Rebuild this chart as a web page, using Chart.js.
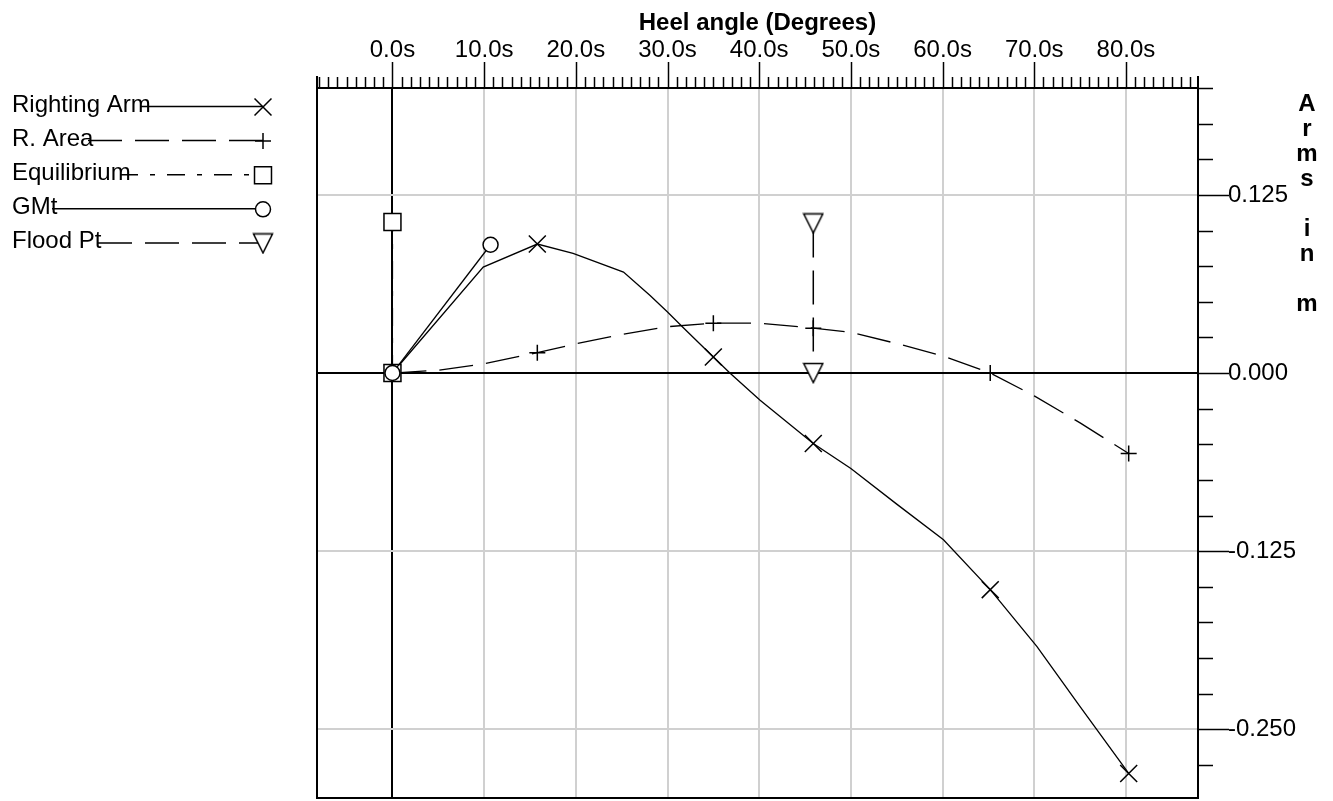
<!DOCTYPE html>
<html>
<head>
<meta charset="utf-8">
<script src="https://cdn.jsdelivr.net/npm/chart.js@4.4.1/dist/chart.umd.min.js"></script>
<style>
html,body{margin:0;padding:0;background:#fff;overflow:hidden}
#wrap{width:1333px;height:801px;position:relative}
canvas{display:block}
</style>
</head>
<body>
<div id="wrap"><canvas id="c" width="1333" height="801"></canvas></div>
<script>
// ---------------- data ----------------
const seriesNames = ['Righting Arm', 'R. Area', 'Equilibrium', 'GMt', 'Flood Pt'];
const xAxisTitle = 'Heel angle (Degrees)';
const yAxisTitle = 'Arms in m';

const xMajorTicks = [0, 10, 20, 30, 40, 50, 60, 70, 80];
const xTickLabels = ['0.0s', '10.0s', '20.0s', '30.0s', '40.0s', '50.0s', '60.0s', '70.0s', '80.0s'];
const yMajorTicks = [0.125, 0, -0.125, -0.25];
const yTickLabels = ['0.125', '0.000', '-0.125', '-0.250'];

const markedAngles = [0, 15.8, 35, 45.9, 65.2, 80.3];

const rightingArmAngles = [0, 9.9, 15.8, 19.7, 25.2, 28.1, 30, 31.7, 35, 36.8, 40.1, 45.9, 50, 55, 60.1, 65.2, 70.3, 75, 80.3];
const rightingArmValues = [0, 0.0743, 0.0905, 0.084, 0.0708, 0.0544, 0.0428, 0.032, 0.0112, 0.0, -0.0191, -0.0495, -0.067, -0.092, -0.117, -0.152, -0.192, -0.234, -0.281];

const rAreaAngles = [0, 5, 10, 15.8, 20, 25, 30, 35, 40, 45.9, 50, 55, 60, 65.2, 70, 75, 80.3];
const rAreaValues = [0, 0.002, 0.0065, 0.0143, 0.0205, 0.027, 0.0325, 0.035, 0.035, 0.0315, 0.0285, 0.0207, 0.012, 0.0, -0.016, -0.035, -0.0565];

const equilibriumAngles = [0, 0];
const equilibriumValues = [0, 0.106];

const gmtAngles = [0, 10.7];
const gmtValues = [0, 0.090];

const floodAngles = [45.9, 45.9];
const floodValues = [0.105, 0];

// ---------------- helpers ----------------
const FONT = '"Liberation Sans", Arial, sans-serif';
const near = (a, b) => Math.abs(a - b) < 1e-9;
const pts = (xs, ys) => xs.map((x, i) => ({x, y: ys[i]}));
const isMarked = c => c.raw && markedAngles.some(a => near(a, c.raw.x));

function makeTriangle() {
  const c = document.createElement('canvas');
  c.width = 22; c.height = 22;
  const g = c.getContext('2d');
  g.fillStyle = '#fff'; g.strokeStyle = '#000'; g.lineWidth = 1.5;
  g.beginPath(); g.moveTo(1.5, 1.5); g.lineTo(20.5, 1.5); g.lineTo(11, 20.5); g.closePath();
  g.fill(); g.stroke();
  return c;
}
const triImg = makeTriangle();

const styles = [
  {dash: [], pointStyle: 'crossRot', radius: 12, legendStart: 140},
  {dash: [34, 13], pointStyle: 'cross', radius: 8, legendStart: 88},
  {dash: [18, 12, 5, 12], pointStyle: 'rect', radius: 12, legendStart: 120},
  {dash: [], pointStyle: 'circle', radius: 7.5, legendStart: 52},
  {dash: [34, 13], pointStyle: triImg, radius: 10, legendStart: 98}
];

const deco = {
  id: 'deco',
  afterDraw(chart) {
    const {ctx, chartArea: a, scales} = chart;
    const xs = scales.x, ys = scales.y;
    ctx.save();
    ctx.strokeStyle = '#000';
    ctx.lineWidth = 1.5;
    const line = (x1, y1, x2, y2) => { ctx.beginPath(); ctx.moveTo(x1, y1); ctx.lineTo(x2, y2); ctx.stroke(); };
    // x tick marks (top)
    xs.ticks.forEach(t => {
      const px = Math.round(xs.getPixelForValue(t.value)) + 0.5;
      const major = xMajorTicks.some(v => near(v, t.value));
      line(px, a.top - (major ? 26 : 11), px, a.top);
    });
    // y tick marks (right)
    ys.ticks.forEach(t => {
      const py = Math.round(ys.getPixelForValue(t.value)) + 0.5;
      const major = yMajorTicks.some(v => near(v, t.value));
      line(a.right, py, a.right + (major ? 31 : 15), py);
    });
    // frame
    ctx.lineWidth = 2;
    line(a.left, a.top - 12, a.left, a.bottom);
    line(a.left - 1, a.bottom, a.right + 1, a.bottom);
    line(a.right, a.top - 12, a.right, a.top);
    // y-axis title, stacked letters
    ctx.fillStyle = '#000';
    ctx.font = 'bold 24px ' + FONT;
    ctx.textAlign = 'center';
    ctx.textBaseline = 'alphabetic';
    yAxisTitle.split('').forEach((ch, i) => { if (ch !== ' ') ctx.fillText(ch, 1307, 111 + 25 * i); });
    // legend
    ctx.font = '24px ' + FONT;
    ctx.textAlign = 'left';
    ctx.textBaseline = 'middle';
    seriesNames.forEach((name, i) => {
      const yy = 105 + 34.1 * i;
      const st = styles[i];
      ctx.fillStyle = '#000';
      ctx.fillText(name, 12, yy);
      ctx.save();
      ctx.lineWidth = 1.5;
      ctx.setLineDash(st.dash);
      line(st.legendStart, yy + 1.5, 263, yy + 1.5);
      ctx.restore();
      ctx.fillStyle = '#fff';
      ctx.strokeStyle = '#000';
      ctx.lineWidth = 1.5;
      Chart.helpers.drawPoint(ctx, {pointStyle: st.pointStyle, radius: st.radius, borderWidth: 1.5, rotation: 0}, 263, yy + 2);
    });
    ctx.restore();
  }
};

const xTicksAll = [];
for (let v = -8; v <= 87; v++) xTicksAll.push(v);
const yTicksAll = [];
for (let i = -11; i <= 8; i++) yTicksAll.push(i * 0.025);

new Chart(document.getElementById('c'), {
  type: 'scatter',
  data: {
    datasets: [
      {label: seriesNames[3], data: pts(gmtAngles, gmtValues), showLine: true, order: 0,
       borderColor: '#000', borderWidth: 1.3, pointStyle: 'circle', pointRadius: 7.5,
       pointBorderColor: '#000', pointBackgroundColor: '#fff', pointBorderWidth: 1.5},
      {label: seriesNames[2], data: pts(equilibriumAngles, equilibriumValues), showLine: true, order: 1,
       borderColor: '#000', borderWidth: 1.3, borderDash: styles[2].dash, pointStyle: 'rect', pointRadius: 12,
       pointBorderColor: '#000', pointBackgroundColor: '#fff', pointBorderWidth: 1.5},
      {label: seriesNames[0], data: pts(rightingArmAngles, rightingArmValues), showLine: true, order: 2,
       borderColor: '#000', borderWidth: 1.3, pointStyle: 'crossRot',
       pointRadius: c => isMarked(c) ? 12 : 0,
       pointBorderColor: '#000', pointBackgroundColor: '#fff', pointBorderWidth: 1.5},
      {label: seriesNames[1], data: pts(rAreaAngles, rAreaValues), showLine: true, order: 3,
       borderColor: '#000', borderWidth: 1.3, borderDash: styles[1].dash, pointStyle: 'cross',
       pointRadius: c => isMarked(c) ? 8 : 0,
       pointBorderColor: '#000', pointBackgroundColor: '#fff', pointBorderWidth: 1.5},
      {label: seriesNames[4], data: pts(floodAngles, floodValues), showLine: true, order: 4,
       borderColor: '#000', borderWidth: 1.5, borderDash: styles[4].dash, pointStyle: triImg,
       pointRadius: 10, pointBorderColor: '#000', pointBackgroundColor: '#fff', pointBorderWidth: 1.5}
    ]
  },
  options: {
    responsive: false,
    animation: false,
    events: [],
    devicePixelRatio: 1,
    layout: {autoPadding: false, padding: {left: 317, top: 0, right: 0, bottom: 3}},
    plugins: {legend: {display: false}, tooltip: {enabled: false}},
    scales: {
      x: {
        type: 'linear', position: 'top', min: -8.23, max: 87.86,
        afterFit: s => { s.height = 88; s.paddingLeft = 0; s.paddingRight = 0; },
        afterBuildTicks: s => { s.ticks = xTicksAll.map(v => ({value: v})); },
        ticks: {
          autoSkip: false, maxRotation: 0, minRotation: 0, padding: 23, color: '#000',
          font: {family: FONT, size: 24},
          callback: v => { const i = xMajorTicks.findIndex(m => near(m, v)); return i >= 0 ? xTickLabels[i] : ''; }
        },
        grid: {
          drawTicks: false,
          color: c => near(c.tick.value, 0) ? '#000' : (xMajorTicks.some(m => near(m, c.tick.value)) ? '#d0d0d0' : 'rgba(0,0,0,0)'),
          lineWidth: c => xMajorTicks.some(m => near(m, c.tick.value)) ? 2 : 0
        },
        border: {display: true, color: '#000', width: 2},
        title: {display: true, text: xAxisTitle, color: '#000', font: {family: FONT, size: 24, weight: 'bold'}, padding: {top: 8.5, bottom: 0}}
      },
      y: {
        type: 'linear', position: 'right', min: -0.2982, max: 0.2,
        afterFit: s => { s.width = 135; s.paddingTop = 0; s.paddingBottom = 0; },
        afterBuildTicks: s => { s.ticks = yTicksAll.map(v => ({value: v})); },
        ticks: {
          autoSkip: false, padding: 30, color: '#000',
          font: {family: FONT, size: 24},
          callback: v => { const i = yMajorTicks.findIndex(m => near(m, v)); return i >= 0 ? yTickLabels[i] : ''; }
        },
        grid: {
          drawTicks: false,
          color: c => near(c.tick.value, 0) ? '#000' : (yMajorTicks.some(m => near(m, c.tick.value)) ? '#d0d0d0' : 'rgba(0,0,0,0)'),
          lineWidth: c => yMajorTicks.some(m => near(m, c.tick.value)) ? 2 : 0
        },
        border: {display: true, color: '#000', width: 2},
        title: {display: false}
      }
    }
  },
  plugins: [deco]
});
</script>
</body>
</html>
